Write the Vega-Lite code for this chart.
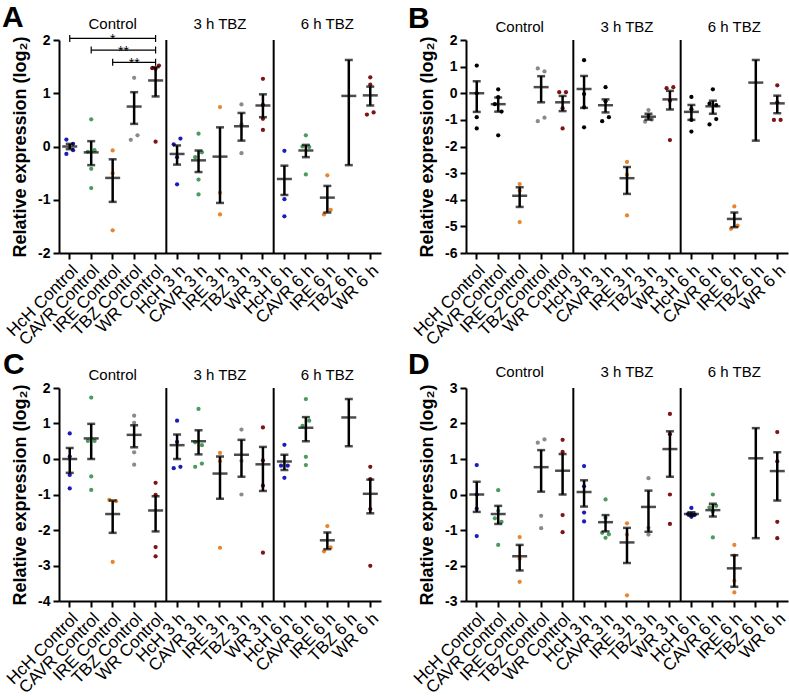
{
"$schema":"https://vega.github.io/schema/vega-lite/v6.json",
"padding":{"left":2,"top":3,"right":0,"bottom":0},
"bounds":"flush",
"columns":2,
"spacing":{"row":135,"column":85},
"datasets":{
"pts":[
{"p":"A","c":"HcH Control","g":"HcH","v":[0.13,0.05,-0.07,-0.14],"j":[-1,1,1,-1]},
{"p":"A","c":"CAVR Control","g":"CAVR","v":[0.51,-0.1,-0.07,-0.42,-0.78],"j":[0,-1,1,0,0]},
{"p":"A","c":"IRE Control","g":"IRE","v":[-0.075,-0.5,-1.575],"j":[0,0,0]},
{"p":"A","c":"TBZ Control","g":"TBZ","v":[1.29,0.125,0.21],"j":[0,-1,1]},
{"p":"A","c":"WR Control","g":"WR","v":[1.47,1.52,1.46,0.09],"j":[-1,1,0,0]},
{"p":"A","c":"HcH 3 h","g":"HcH","v":[0.15,0.04,-0.2,-0.71],"j":[1,-1,0,0]},
{"p":"A","c":"CAVR 3 h","g":"CAVR","v":[0.24,-0.2,-0.11,-0.62,-0.9],"j":[0,-1,1,0,0]},
{"p":"A","c":"IRE 3 h","g":"IRE","v":[0.74,-0.87,-1.275],"j":[0,0,0]},
{"p":"A","c":"TBZ 3 h","g":"TBZ","v":[0.79,0.42,-0.125],"j":[0,0,0]},
{"p":"A","c":"WR 3 h","g":"WR","v":[1.27,0.78,0.52,0.31],"j":[0,0,0,0]},
{"p":"A","c":"HcH 6 h","g":"HcH","v":[-0.08,-0.99,-1.31],"j":[0,0,0]},
{"p":"A","c":"CAVR 6 h","g":"CAVR","v":[0.21,0.0,-0.01,-0.525],"j":[0,-1,1,0]},
{"p":"A","c":"IRE 6 h","g":"IRE","v":[-0.54,-1.275,-1.19],"j":[0,-1,1]},
{"p":"A","c":"WR 6 h","g":"WR","v":[1.3,1.16,0.6,0.64],"j":[0,0,-1,1]},
{"p":"B","c":"HcH Control","g":"HcH","v":[1.04,0.0,-0.9,-1.32],"j":[0,0,0,0]},
{"p":"B","c":"CAVR Control","g":"CAVR","v":[0.15,-0.15,-0.41,-0.69,-1.58],"j":[0,0,-1,1,0]},
{"p":"B","c":"IRE Control","g":"IRE","v":[-3.41,-3.66,-4.84],"j":[0,0,0]},
{"p":"B","c":"TBZ Control","g":"TBZ","v":[0.93,0.82,-1.05,-0.92],"j":[-1,1,-1,1]},
{"p":"B","c":"WR Control","g":"WR","v":[0.04,0.04,-0.56,-1.32],"j":[-1,1,0,0]},
{"p":"B","c":"HcH 3 h","g":"HcH","v":[1.24,-0.03,-0.53,-1.28],"j":[0,0,0,0]},
{"p":"B","c":"CAVR 3 h","g":"CAVR","v":[0.23,-0.3,-1.05,-0.9],"j":[0,0,-1,1]},
{"p":"B","c":"IRE 3 h","g":"IRE","v":[-2.58,-3.06,-4.59],"j":[0,0,0]},
{"p":"B","c":"TBZ 3 h","g":"TBZ","v":[-0.63,-0.84,-1.07,-0.99],"j":[0,0,-1,1]},
{"p":"B","c":"WR 3 h","g":"WR","v":[0.19,0.23,-0.28,-1.76],"j":[-1,1,0,0]},
{"p":"B","c":"HcH 6 h","g":"HcH","v":[-0.14,-0.6,-1.0,-1.44],"j":[0,0,0,0]},
{"p":"B","c":"CAVR 6 h","g":"CAVR","v":[0.15,-0.39,-0.45,-0.97,-1.17],"j":[0,-1,1,1,-1]},
{"p":"B","c":"IRE 6 h","g":"IRE","v":[-4.25,-5.09,-4.97],"j":[0,-1,1]},
{"p":"B","c":"WR 6 h","g":"WR","v":[0.3,-0.34,-1.0,-1.0],"j":[0,0,-1,1]},
{"p":"C","c":"HcH Control","g":"HcH","v":[0.72,0.07,-0.45,-0.83],"j":[0,0,0,0]},
{"p":"C","c":"CAVR Control","g":"CAVR","v":[1.73,0.51,0.51,-0.49,-0.87],"j":[0,-1,1,0,0]},
{"p":"C","c":"IRE Control","g":"IRE","v":[-1.15,-1.19,-2.9],"j":[-1,1,0]},
{"p":"C","c":"TBZ Control","g":"TBZ","v":[1.22,1.02,0.19,-0.16],"j":[0,0,0,0]},
{"p":"C","c":"WR Control","g":"WR","v":[-0.67,-1.01,-2.48,-2.74],"j":[0,0,0,0]},
{"p":"C","c":"HcH 3 h","g":"HcH","v":[1.08,0.48,-0.26,-0.22],"j":[0,0,-1,1]},
{"p":"C","c":"CAVR 3 h","g":"CAVR","v":[1.41,0.47,0.39,-0.22,-0.13],"j":[0,-1,1,-1,1]},
{"p":"C","c":"IRE 3 h","g":"IRE","v":[0.17,-0.06,-2.5],"j":[0,0,0]},
{"p":"C","c":"TBZ 3 h","g":"TBZ","v":[0.83,-0.05,-1.0],"j":[0,0,0]},
{"p":"C","c":"WR 3 h","g":"WR","v":[0.89,-0.04,-0.75,-2.64],"j":[0,0,0,0]},
{"p":"C","c":"HcH 6 h","g":"HcH","v":[0.4,-0.19,-0.19,-0.53],"j":[0,-1,1,0]},
{"p":"C","c":"CAVR 6 h","g":"CAVR","v":[1.69,0.93,1.08,0.06,-0.17],"j":[0,-1,1,0,0]},
{"p":"C","c":"IRE 6 h","g":"IRE","v":[-1.89,-2.6,-2.49],"j":[0,-1,1]},
{"p":"C","c":"WR 6 h","g":"WR","v":[-0.22,-0.57,-1.41,-3.01],"j":[0,0,0,0]},
{"p":"D","c":"HcH Control","g":"HcH","v":[0.83,0.0,-0.4,-1.17],"j":[0,0,0,0]},
{"p":"D","c":"CAVR Control","g":"CAVR","v":[0.12,-0.46,-0.67,-0.77,-1.42],"j":[0,0,-1,1,0]},
{"p":"D","c":"IRE Control","g":"IRE","v":[-1.2,-1.81,-2.46],"j":[0,0,0]},
{"p":"D","c":"TBZ Control","g":"TBZ","v":[1.46,1.55,-0.6,-0.95],"j":[-1,1,0,0]},
{"p":"D","c":"WR Control","g":"WR","v":[1.54,1.2,-0.58,-1.06],"j":[0,0,0,0]},
{"p":"D","c":"HcH 3 h","g":"HcH","v":[0.8,0.23,-0.51,-0.76],"j":[0,0,0,0]},
{"p":"D","c":"CAVR 3 h","g":"CAVR","v":[-0.14,-0.66,-1.08,-1.12,-1.22],"j":[0,0,-1,1,0]},
{"p":"D","c":"IRE 3 h","g":"IRE","v":[-0.81,-1.13,-2.84],"j":[0,0,0]},
{"p":"D","c":"TBZ 3 h","g":"TBZ","v":[0.46,-0.94,-1.13],"j":[0,0,0]},
{"p":"D","c":"WR 3 h","g":"WR","v":[2.27,1.7,0.0,-0.83],"j":[0,0,0,0]},
{"p":"D","c":"HcH 6 h","g":"HcH","v":[-0.38,-0.55,-0.57,-0.63],"j":[0,-1,1,0]},
{"p":"D","c":"CAVR 6 h","g":"CAVR","v":[0.0,-0.36,-0.32,-0.48,-1.21],"j":[0,-1,1,0,0]},
{"p":"D","c":"IRE 6 h","g":"IRE","v":[-1.42,-1.72,-2.43,-2.76],"j":[0,0,0,0]},
{"p":"D","c":"WR 6 h","g":"WR","v":[1.76,0.93,-0.77,-1.23],"j":[0,0,0,0]}
],
"sum":[
{"p":"A","c":"HcH Control","m":0,"lo":-0.05,"hi":0.05},
{"p":"A","c":"CAVR Control","m":-0.11,"lo":-0.35,"hi":0.1},
{"p":"A","c":"IRE Control","m":-0.59,"lo":-1.04,"hi":-0.24},
{"p":"A","c":"TBZ Control","m":0.75,"lo":0.425,"hi":1.02},
{"p":"A","c":"WR Control","m":1.24,"lo":0.94,"hi":1.49},
{"p":"A","c":"HcH 3 h","m":-0.14,"lo":-0.34,"hi":0.02},
{"p":"A","c":"CAVR 3 h","m":-0.26,"lo":-0.48,"hi":-0.075},
{"p":"A","c":"IRE 3 h","m":-0.19,"lo":-1.06,"hi":0.36},
{"p":"A","c":"TBZ 3 h","m":0.38,"lo":0.11,"hi":0.63},
{"p":"A","c":"WR 3 h","m":0.77,"lo":0.55,"hi":0.98},
{"p":"A","c":"HcH 6 h","m":-0.61,"lo":-0.91,"hi":-0.36},
{"p":"A","c":"CAVR 6 h","m":-0.075,"lo":-0.2,"hi":0.03},
{"p":"A","c":"IRE 6 h","m":-0.96,"lo":-1.24,"hi":-0.74},
{"p":"A","c":"TBZ 6 h","m":0.95,"lo":-0.35,"hi":1.625},
{"p":"A","c":"WR 6 h","m":0.96,"lo":0.77,"hi":1.125},
{"p":"B","c":"HcH Control","m":0,"lo":-0.7,"hi":0.45},
{"p":"B","c":"CAVR Control","m":-0.41,"lo":-0.69,"hi":-0.16},
{"p":"B","c":"IRE Control","m":-3.85,"lo":-4.27,"hi":-3.53},
{"p":"B","c":"TBZ Control","m":0.23,"lo":-0.34,"hi":0.64},
{"p":"B","c":"WR Control","m":-0.34,"lo":-0.67,"hi":-0.1},
{"p":"B","c":"HcH 3 h","m":0.16,"lo":-0.55,"hi":0.65},
{"p":"B","c":"CAVR 3 h","m":-0.45,"lo":-0.72,"hi":-0.23},
{"p":"B","c":"IRE 3 h","m":-3.19,"lo":-3.78,"hi":-2.77},
{"p":"B","c":"TBZ 3 h","m":-0.88,"lo":-0.99,"hi":-0.77},
{"p":"B","c":"WR 3 h","m":-0.23,"lo":-0.61,"hi":0.09},
{"p":"B","c":"HcH 6 h","m":-0.7,"lo":-1.0,"hi":-0.44},
{"p":"B","c":"CAVR 6 h","m":-0.49,"lo":-0.77,"hi":-0.28},
{"p":"B","c":"IRE 6 h","m":-4.72,"lo":-5.03,"hi":-4.48},
{"p":"B","c":"TBZ 6 h","m":0.4,"lo":-1.78,"hi":1.25},
{"p":"B","c":"WR 6 h","m":-0.38,"lo":-0.75,"hi":-0.09},
{"p":"C","c":"HcH Control","m":0,"lo":-0.39,"hi":0.31},
{"p":"C","c":"CAVR Control","m":0.58,"lo":0,"hi":0.99},
{"p":"C","c":"IRE Control","m":-1.55,"lo":-2.08,"hi":-1.17},
{"p":"C","c":"TBZ Control","m":0.68,"lo":0.33,"hi":0.95},
{"p":"C","c":"WR Control","m":-1.45,"lo":-2.04,"hi":-1.05},
{"p":"C","c":"HcH 3 h","m":0.39,"lo":0,"hi":0.69},
{"p":"C","c":"CAVR 3 h","m":0.5,"lo":0.13,"hi":0.81},
{"p":"C","c":"IRE 3 h","m":-0.41,"lo":-1.12,"hi":0.07},
{"p":"C","c":"TBZ 3 h","m":0.12,"lo":-0.5,"hi":0.54},
{"p":"C","c":"WR 3 h","m":-0.15,"lo":-0.9,"hi":0.34},
{"p":"C","c":"HcH 6 h","m":-0.07,"lo":-0.31,"hi":0.12},
{"p":"C","c":"CAVR 6 h","m":0.88,"lo":0.5,"hi":1.18},
{"p":"C","c":"IRE 6 h","m":-2.29,"lo":-2.54,"hi":-2.07},
{"p":"C","c":"TBZ 6 h","m":1.17,"lo":0.36,"hi":1.69},
{"p":"C","c":"WR 6 h","m":-0.98,"lo":-1.53,"hi":-0.58},
{"p":"D","c":"HcH Control","m":0,"lo":-0.49,"hi":0.36},
{"p":"D","c":"CAVR Control","m":-0.55,"lo":-0.83,"hi":-0.32},
{"p":"D","c":"IRE Control","m":-1.74,"lo":-2.14,"hi":-1.42},
{"p":"D","c":"TBZ Control","m":0.77,"lo":0.08,"hi":1.25},
{"p":"D","c":"WR Control","m":0.67,"lo":0,"hi":1.14},
{"p":"D","c":"HcH 3 h","m":0.07,"lo":-0.34,"hi":0.4},
{"p":"D","c":"CAVR 3 h","m":-0.78,"lo":-1.04,"hi":-0.58},
{"p":"D","c":"IRE 3 h","m":-1.35,"lo":-1.93,"hi":-0.94},
{"p":"D","c":"TBZ 3 h","m":-0.35,"lo":-1.05,"hi":0.11},
{"p":"D","c":"WR 3 h","m":1.28,"lo":0.5,"hi":1.78},
{"p":"D","c":"HcH 6 h","m":-0.55,"lo":-0.6,"hi":-0.5},
{"p":"D","c":"CAVR 6 h","m":-0.44,"lo":-0.62,"hi":-0.26},
{"p":"D","c":"IRE 6 h","m":-2.08,"lo":-2.6,"hi":-1.71},
{"p":"D","c":"TBZ 6 h","m":1.02,"lo":-1.23,"hi":1.87},
{"p":"D","c":"WR 6 h","m":0.66,"lo":-0.17,"hi":1.19}
],
"sep":[{"c":"WR Control"},{"c":"WR 3 h"}],
"grp":[{"c":"IRE Control","t":"Control"},{"c":"IRE 3 h","t":"3 h TBZ"},{"c":"IRE 6 h","t":"6 h TBZ"}],
"brk":[
{"from":"HcH Control","to":"WR Control","lvl":2.03,"t":"*","mid":"IRE Control","mb":false},
{"from":"CAVR Control","to":"WR Control","lvl":1.81,"t":"**","mid":"TBZ Control","mb":true},
{"from":"IRE Control","to":"WR Control","lvl":1.58,"t":"**","mid":"TBZ Control","mb":false}
]
},
"concat":[
{"width":322,"height":213,
"layer":[
{"data":{"name":"sep"},"mark":{"type":"rule","strokeWidth":2,"color":"black"},
"encoding":{"x":{"field":"c","type":"nominal","bandPosition":1,"scale":{"type":"band","domain":["HcH Control","CAVR Control","IRE Control","TBZ Control","WR Control","HcH 3 h","CAVR 3 h","IRE 3 h","TBZ 3 h","WR 3 h","HcH 6 h","CAVR 6 h","IRE 6 h","TBZ 6 h","WR 6 h"],"paddingInner":0,"paddingOuter":0},"axis":{"title":null}}}},
{"data":{"name":"pts"},"transform":[{"filter":"datum.p==='A'"},{"flatten":["v","j"]}],
"mark":{"type":"circle","size":18,"opacity":1},
"encoding":{"x":{"field":"c","type":"nominal"},
"xOffset":{"field":"j","type":"quantitative","scale":{"domain":[-3.2,3.2],"range":[0,21.47],"nice":false,"zero":false}},
"y":{"field":"v","type":"quantitative","scale":{"domain":[-2,2],"nice":false,"zero":false},"axis":{"title":"Relative expression (log₂)","values":[-2,-1,0,1,2],"tickCount":20,"labelExpr":"''+datum.value","labelOverlap":false}},
"color":{"field":"g","type":"nominal","scale":{"domain":["HcH","CAVR","IRE","TBZ","WR"],"range":["#1c1cb8","#4b9b5d","#e8852e","#8a8a8a","#7d1416"]},"legend":null}}},
{"data":{"name":"sum"},"transform":[{"filter":"datum.p==='A'"}],"mark":{"type":"rule","strokeWidth":2.5,"color":"black"},
"encoding":{"x":{"field":"c","type":"nominal"},"y":{"field":"lo","type":"quantitative"},"y2":{"field":"hi"}}},
{"data":{"name":"sum"},"transform":[{"filter":"datum.p==='A'"}],"mark":{"type":"tick","size":8,"thickness":2.5,"color":"black"},
"encoding":{"x":{"field":"c","type":"nominal"},"y":{"field":"lo","type":"quantitative"}}},
{"data":{"name":"sum"},"transform":[{"filter":"datum.p==='A'"}],"mark":{"type":"tick","size":8,"thickness":2.5,"color":"black"},
"encoding":{"x":{"field":"c","type":"nominal"},"y":{"field":"hi","type":"quantitative"}}},
{"data":{"name":"sum"},"transform":[{"filter":"datum.p==='A'"}],"mark":{"type":"tick","size":15,"thickness":2.5,"color":"black"},
"encoding":{"x":{"field":"c","type":"nominal"},"y":{"field":"m","type":"quantitative"}}},
{"data":{"name":"grp"},"mark":{"type":"text","fontSize":15,"align":"center","baseline":"alphabetic","color":"black"},
"encoding":{"x":{"field":"c","type":"nominal"},"y":{"datum":2.2,"type":"quantitative"},"text":{"field":"t"}}},
{"data":{"values":[{"c":"HcH Control","t":"A"}]},"mark":{"type":"text","fontSize":30,"fontWeight":"bold","align":"left","baseline":"alphabetic","dx":-57,"color":"black"},
"encoding":{"x":{"field":"c","type":"nominal","bandPosition":0},"y":{"datum":2.24,"type":"quantitative"},"text":{"field":"t"}}},
{"data":{"name":"brk"},"mark":{"type":"rule","strokeWidth":1.2,"color":"black"},
"encoding":{"x":{"field":"from","type":"nominal"},"x2":{"field":"to"},"y":{"field":"lvl","type":"quantitative"}}},
{"data":{"name":"brk"},"transform":[{"fold":["from","to"],"as":["k","c"]}],"mark":{"type":"point","shape":"M0,-1V1","size":49,"filled":false,"strokeWidth":1.2,"color":"black","opacity":1},
"encoding":{"x":{"field":"c","type":"nominal"},"y":{"field":"lvl","type":"quantitative"}}},
{"data":{"name":"brk"},"transform":[{"filter":"!datum.mb"}],"mark":{"type":"text","fontSize":14,"align":"center","baseline":"alphabetic","dy":6,"color":"black"},
"encoding":{"x":{"field":"mid","type":"nominal"},"y":{"field":"lvl","type":"quantitative"},"text":{"field":"t"}}},
{"data":{"name":"brk"},"transform":[{"filter":"datum.mb"}],"mark":{"type":"text","fontSize":14,"align":"center","baseline":"alphabetic","dy":6,"color":"black"},
"encoding":{"x":{"field":"mid","type":"nominal","bandPosition":0},"y":{"field":"lvl","type":"quantitative"},"text":{"field":"t"}}}
]},
{"width":322,"height":213,
"layer":[
{"data":{"name":"sep"},"mark":{"type":"rule","strokeWidth":2,"color":"black"},
"encoding":{"x":{"field":"c","type":"nominal","bandPosition":1,"scale":{"type":"band","domain":["HcH Control","CAVR Control","IRE Control","TBZ Control","WR Control","HcH 3 h","CAVR 3 h","IRE 3 h","TBZ 3 h","WR 3 h","HcH 6 h","CAVR 6 h","IRE 6 h","TBZ 6 h","WR 6 h"],"paddingInner":0,"paddingOuter":0},"axis":{"title":null}}}},
{"data":{"name":"pts"},"transform":[{"filter":"datum.p==='B'"},{"flatten":["v","j"]}],
"mark":{"type":"circle","size":18,"opacity":1},
"encoding":{"x":{"field":"c","type":"nominal"},
"xOffset":{"field":"j","type":"quantitative","scale":{"domain":[-3.2,3.2],"range":[0,21.47],"nice":false,"zero":false}},
"y":{"field":"v","type":"quantitative","scale":{"domain":[-6,2],"nice":false,"zero":false},"axis":{"title":"Relative expression (log₂)","values":[-6,-5,-4,-3,-2,-1,0,1,2],"tickCount":20,"labelExpr":"''+datum.value","labelOverlap":false}},
"color":{"field":"g","type":"nominal","scale":{"domain":["HcH","CAVR","IRE","TBZ","WR"],"range":["#000000","#000000","#e8852e","#8a8a8a","#7d1416"]},"legend":null}}},
{"data":{"name":"sum"},"transform":[{"filter":"datum.p==='B'"}],"mark":{"type":"rule","strokeWidth":2.5,"color":"black"},
"encoding":{"x":{"field":"c","type":"nominal"},"y":{"field":"lo","type":"quantitative"},"y2":{"field":"hi"}}},
{"data":{"name":"sum"},"transform":[{"filter":"datum.p==='B'"}],"mark":{"type":"tick","size":8,"thickness":2.5,"color":"black"},
"encoding":{"x":{"field":"c","type":"nominal"},"y":{"field":"lo","type":"quantitative"}}},
{"data":{"name":"sum"},"transform":[{"filter":"datum.p==='B'"}],"mark":{"type":"tick","size":8,"thickness":2.5,"color":"black"},
"encoding":{"x":{"field":"c","type":"nominal"},"y":{"field":"hi","type":"quantitative"}}},
{"data":{"name":"sum"},"transform":[{"filter":"datum.p==='B'"}],"mark":{"type":"tick","size":15,"thickness":2.5,"color":"black"},
"encoding":{"x":{"field":"c","type":"nominal"},"y":{"field":"m","type":"quantitative"}}},
{"data":{"name":"grp"},"mark":{"type":"text","fontSize":15,"align":"center","baseline":"alphabetic","color":"black"},
"encoding":{"x":{"field":"c","type":"nominal"},"y":{"datum":2.29,"type":"quantitative"},"text":{"field":"t"}}},
{"data":{"values":[{"c":"HcH Control","t":"B"}]},"mark":{"type":"text","fontSize":30,"fontWeight":"bold","align":"left","baseline":"alphabetic","dx":-58,"color":"black"},
"encoding":{"x":{"field":"c","type":"nominal","bandPosition":0},"y":{"datum":2.44,"type":"quantitative"},"text":{"field":"t"}}}
]},
{"width":322,"height":213,
"layer":[
{"data":{"name":"sep"},"mark":{"type":"rule","strokeWidth":2,"color":"black"},
"encoding":{"x":{"field":"c","type":"nominal","bandPosition":1,"scale":{"type":"band","domain":["HcH Control","CAVR Control","IRE Control","TBZ Control","WR Control","HcH 3 h","CAVR 3 h","IRE 3 h","TBZ 3 h","WR 3 h","HcH 6 h","CAVR 6 h","IRE 6 h","TBZ 6 h","WR 6 h"],"paddingInner":0,"paddingOuter":0},"axis":{"title":null}}}},
{"data":{"name":"pts"},"transform":[{"filter":"datum.p==='C'"},{"flatten":["v","j"]}],
"mark":{"type":"circle","size":18,"opacity":1},
"encoding":{"x":{"field":"c","type":"nominal"},
"xOffset":{"field":"j","type":"quantitative","scale":{"domain":[-3.2,3.2],"range":[0,21.47],"nice":false,"zero":false}},
"y":{"field":"v","type":"quantitative","scale":{"domain":[-4,2],"nice":false,"zero":false},"axis":{"title":"Relative expression (log₂)","values":[-4,-3,-2,-1,0,1,2],"tickCount":20,"labelExpr":"''+datum.value","labelOverlap":false}},
"color":{"field":"g","type":"nominal","scale":{"domain":["HcH","CAVR","IRE","TBZ","WR"],"range":["#1c1cb8","#4b9b5d","#e8852e","#8a8a8a","#7d1416"]},"legend":null}}},
{"data":{"name":"sum"},"transform":[{"filter":"datum.p==='C'"}],"mark":{"type":"rule","strokeWidth":2.5,"color":"black"},
"encoding":{"x":{"field":"c","type":"nominal"},"y":{"field":"lo","type":"quantitative"},"y2":{"field":"hi"}}},
{"data":{"name":"sum"},"transform":[{"filter":"datum.p==='C'"}],"mark":{"type":"tick","size":8,"thickness":2.5,"color":"black"},
"encoding":{"x":{"field":"c","type":"nominal"},"y":{"field":"lo","type":"quantitative"}}},
{"data":{"name":"sum"},"transform":[{"filter":"datum.p==='C'"}],"mark":{"type":"tick","size":8,"thickness":2.5,"color":"black"},
"encoding":{"x":{"field":"c","type":"nominal"},"y":{"field":"hi","type":"quantitative"}}},
{"data":{"name":"sum"},"transform":[{"filter":"datum.p==='C'"}],"mark":{"type":"tick","size":15,"thickness":2.5,"color":"black"},
"encoding":{"x":{"field":"c","type":"nominal"},"y":{"field":"m","type":"quantitative"}}},
{"data":{"name":"grp"},"mark":{"type":"text","fontSize":15,"align":"center","baseline":"alphabetic","color":"black"},
"encoding":{"x":{"field":"c","type":"nominal"},"y":{"datum":2.22,"type":"quantitative"},"text":{"field":"t"}}},
{"data":{"values":[{"c":"HcH Control","t":"C"}]},"mark":{"type":"text","fontSize":30,"fontWeight":"bold","align":"left","baseline":"alphabetic","dx":-56,"color":"black"},
"encoding":{"x":{"field":"c","type":"nominal","bandPosition":0},"y":{"datum":2.39,"type":"quantitative"},"text":{"field":"t"}}}
]},
{"width":322,"height":213,
"layer":[
{"data":{"name":"sep"},"mark":{"type":"rule","strokeWidth":2,"color":"black"},
"encoding":{"x":{"field":"c","type":"nominal","bandPosition":1,"scale":{"type":"band","domain":["HcH Control","CAVR Control","IRE Control","TBZ Control","WR Control","HcH 3 h","CAVR 3 h","IRE 3 h","TBZ 3 h","WR 3 h","HcH 6 h","CAVR 6 h","IRE 6 h","TBZ 6 h","WR 6 h"],"paddingInner":0,"paddingOuter":0},"axis":{"title":null}}}},
{"data":{"name":"pts"},"transform":[{"filter":"datum.p==='D'"},{"flatten":["v","j"]}],
"mark":{"type":"circle","size":18,"opacity":1},
"encoding":{"x":{"field":"c","type":"nominal"},
"xOffset":{"field":"j","type":"quantitative","scale":{"domain":[-3.2,3.2],"range":[0,21.47],"nice":false,"zero":false}},
"y":{"field":"v","type":"quantitative","scale":{"domain":[-3,3],"nice":false,"zero":false},"axis":{"title":"Relative expression (log₂)","values":[-3,-2,-1,0,1,2,3],"tickCount":20,"labelExpr":"''+datum.value","labelOverlap":false}},
"color":{"field":"g","type":"nominal","scale":{"domain":["HcH","CAVR","IRE","TBZ","WR"],"range":["#1c1cb8","#4b9b5d","#e8852e","#8a8a8a","#7d1416"]},"legend":null}}},
{"data":{"name":"sum"},"transform":[{"filter":"datum.p==='D'"}],"mark":{"type":"rule","strokeWidth":2.5,"color":"black"},
"encoding":{"x":{"field":"c","type":"nominal"},"y":{"field":"lo","type":"quantitative"},"y2":{"field":"hi"}}},
{"data":{"name":"sum"},"transform":[{"filter":"datum.p==='D'"}],"mark":{"type":"tick","size":8,"thickness":2.5,"color":"black"},
"encoding":{"x":{"field":"c","type":"nominal"},"y":{"field":"lo","type":"quantitative"}}},
{"data":{"name":"sum"},"transform":[{"filter":"datum.p==='D'"}],"mark":{"type":"tick","size":8,"thickness":2.5,"color":"black"},
"encoding":{"x":{"field":"c","type":"nominal"},"y":{"field":"hi","type":"quantitative"}}},
{"data":{"name":"sum"},"transform":[{"filter":"datum.p==='D'"}],"mark":{"type":"tick","size":15,"thickness":2.5,"color":"black"},
"encoding":{"x":{"field":"c","type":"nominal"},"y":{"field":"m","type":"quantitative"}}},
{"data":{"name":"grp"},"mark":{"type":"text","fontSize":15,"align":"center","baseline":"alphabetic","color":"black"},
"encoding":{"x":{"field":"c","type":"nominal"},"y":{"datum":3.31,"type":"quantitative"},"text":{"field":"t"}}},
{"data":{"values":[{"c":"HcH Control","t":"D"}]},"mark":{"type":"text","fontSize":30,"fontWeight":"bold","align":"left","baseline":"alphabetic","dx":-58,"color":"black"},
"encoding":{"x":{"field":"c","type":"nominal","bandPosition":0},"y":{"datum":3.4,"type":"quantitative"},"text":{"field":"t"}}}
]}
],
"resolve":{"scale":{"x":"independent","y":"independent","color":"independent","xOffset":"independent"}},
"config":{
"font":"Liberation Sans",
"view":{"stroke":null},
"axis":{"grid":false,"domainColor":"black","domainWidth":2,"tickColor":"black","tickWidth":2,"tickSize":6,"labelColor":"black","titleColor":"black","labelOverlap":false},
"axisX":{"labelAngle":-45,"labelFontSize":17,"labelPadding":3},
"axisY":{"labelFontSize":14,"labelFontWeight":"bold","titleFontSize":18,"titleFontWeight":"bold","titlePadding":8,"labelPadding":3}
}
}
